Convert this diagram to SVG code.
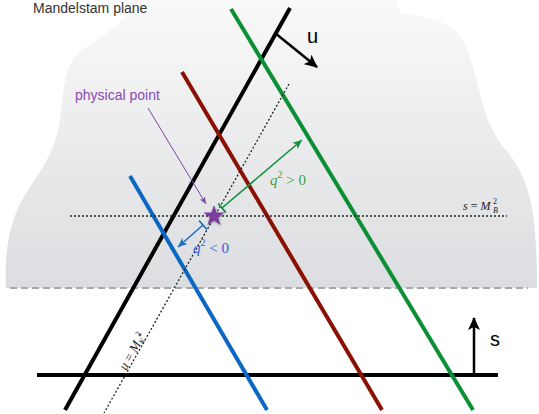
<svg xmlns="http://www.w3.org/2000/svg" width="539" height="414" viewBox="0 0 539 414">
<defs>
<linearGradient id="bg" x1="0" y1="0" x2="0" y2="288" gradientUnits="userSpaceOnUse">
<stop offset="0" stop-color="#f9f9f9"/>
<stop offset="1" stop-color="#dcdde0"/>
</linearGradient>
<marker id="ahBlack" markerWidth="14" markerHeight="12" refX="12" refY="6" orient="auto" markerUnits="userSpaceOnUse">
<path d="M0,0 L13,6 L0,12 L3,6 Z" fill="#000"/>
</marker>
<marker id="ahGreen" markerWidth="10" markerHeight="10" refX="9" refY="5" orient="auto" markerUnits="userSpaceOnUse">
<path d="M0,1 L9,5 L0,9 L2,5 Z" fill="#14923a"/>
</marker>
<marker id="barGreen" markerWidth="4" markerHeight="12" refX="2" refY="6" orient="auto" markerUnits="userSpaceOnUse">
<path d="M2,0 L2,12" stroke="#14923a" stroke-width="1.8"/>
</marker>
<marker id="ahBlue" markerWidth="10" markerHeight="10" refX="9" refY="5" orient="auto" markerUnits="userSpaceOnUse">
<path d="M0,1 L9,5 L0,9 L2,5 Z" fill="#1b6fc6"/>
</marker>
<marker id="barBlue" markerWidth="4" markerHeight="12" refX="2" refY="6" orient="auto" markerUnits="userSpaceOnUse">
<path d="M2,0 L2,12" stroke="#1b6fc6" stroke-width="1.8"/>
</marker>
<marker id="ahPurple" markerWidth="8" markerHeight="8" refX="7" refY="4" orient="auto" markerUnits="userSpaceOnUse">
<path d="M0,1 L7,4 L0,7 L1.5,4 Z" fill="#7f44a8"/>
</marker>
<filter id="shadow" x="-50%" y="-50%" width="200%" height="200%">
<feDropShadow dx="0.5" dy="1" stdDeviation="1" flood-color="#000" flood-opacity="0.35"/>
</filter>
<style>
.thick{fill:none;stroke-width:4;stroke-linecap:butt}
.math{font-family:"Liberation Serif","DejaVu Serif",serif;font-style:italic}
.up{font-style:normal}
.sans{font-family:"Liberation Sans","Open Sans",Arial,sans-serif}
.dotted{fill:none;stroke:#222;stroke-width:1.3;stroke-dasharray:2 2}
</style>
</defs>

<g id="region">
<path d="M6,288 C4,250 10,215 30,187 C45,165 55,150 60,120 C64,90 64,65 80,52 C95,40 115,30 130,12 L135,-5 L395,-5 L400,13 C420,15 445,20 457,33 C470,48 475,75 480,93 C485,115 492,135 510,155 C525,175 533,200 535,233 C537,260 537,275 537,288 Z" fill="url(#bg)"/>
<line x1="10" y1="288" x2="528" y2="288" stroke="#a8a8a8" stroke-width="2" stroke-dasharray="7 4"/>
<text class="sans" x="33" y="13" font-size="14" fill="#333">Mandelstam plane</text>
</g>

<g id="connectors">
<line id="u-line" class="thick" x1="290" y1="8" x2="65" y2="410" stroke="#000"/>
<line id="s-line" class="thick" x1="37" y1="375" x2="498" y2="375" stroke="#000"/>
<line id="green-line" class="thick" x1="231" y1="9" x2="473" y2="410" stroke="#0b8f35"/>
<line id="red-line" class="thick" x1="182" y1="72" x2="382" y2="410" stroke="#8b1004"/>
<line id="blue-line" class="thick" x1="130" y1="176" x2="267" y2="410" stroke="#0a68c4"/>
<line id="uMK-line" class="dotted" x1="289" y1="84" x2="104" y2="413"/>
<line id="sMB-line" class="dotted" x1="70" y1="216" x2="507" y2="216"/>
<line id="u-arrow" x1="275" y1="33" x2="317" y2="67" stroke="#000" stroke-width="2.5" marker-end="url(#ahBlack)"/>
<line id="s-arrow" x1="474" y1="375" x2="474" y2="318" stroke="#000" stroke-width="2.5" marker-end="url(#ahBlack)"/>
<line id="green-arrow" x1="222" y1="208" x2="302" y2="140" stroke="#14923a" stroke-width="1.6" marker-start="url(#barGreen)" marker-end="url(#ahGreen)"/>
<line id="blue-arrow" x1="203" y1="225" x2="178" y2="247" stroke="#1b6fc6" stroke-width="1.6" marker-start="url(#barBlue)" marker-end="url(#ahBlue)"/>
<line id="purple-arrow" x1="148" y1="108" x2="206" y2="204" stroke="#7f44a8" stroke-width="1" marker-end="url(#ahPurple)"/>
</g>

<g id="physical-point">
<polygon points="214,205 216.59,212.44 224.46,212.6 218.18,217.36 220.47,224.9 214,220.4 207.53,224.9 209.82,217.36 203.54,212.6 211.41,212.44" fill="#7a3e9d" filter="url(#shadow)"/>
<text class="sans" x="75" y="100" font-size="14" fill="#8a4bb3">physical point</text>
</g>

<g id="labels">
<text class="sans" x="307" y="43" font-size="20" fill="#000">u</text>
<text class="sans" x="490" y="346" font-size="20" fill="#000">s</text>
<text class="math" x="270" y="185" font-size="15" fill="#3a9f42">q<tspan font-size="10" dy="-7" class="up">2</tspan><tspan dy="7" class="up"> &gt; 0</tspan></text>
<text class="math" x="193" y="253" font-size="15" fill="#3a55d8">q<tspan font-size="10" dy="-7" class="up">2</tspan><tspan dy="7" class="up"> &lt; 0</tspan></text>
<text class="math" x="463" y="210" font-size="12" fill="#222">s <tspan class="up">=</tspan> M</text>
<text class="up" x="493" y="204" font-size="8" fill="#222" font-family="Liberation Serif, serif">2</text>
<text class="math" x="493" y="213" font-size="8" fill="#222">B</text>
<text class="math" transform="translate(126,371) rotate(-60.7)" font-size="13" fill="#222">u <tspan class="up">=</tspan> M<tspan font-size="8" dy="2">K</tspan><tspan font-size="8" dy="-4" class="up">*</tspan><tspan font-size="8" dx="-4" dy="-3" class="up">2</tspan></text>
</g>
</svg>
